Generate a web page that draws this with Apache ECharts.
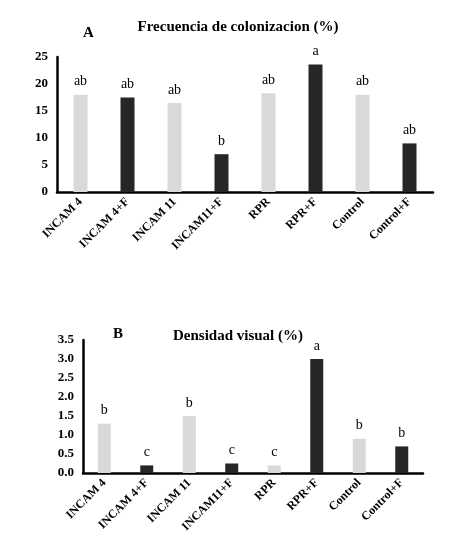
<!DOCTYPE html>
<html>
<head>
<meta charset="utf-8">
<script src="https://cdn.jsdelivr.net/npm/echarts@6/dist/echarts.min.js"></script>
<style>html,body{margin:0;padding:0;background:#fff;}#c{width:450px;height:553px;}</style>
</head>
<body>
<div id="c"></div>
<script>
var categories = ["INCAM 4", "INCAM 4+F", "INCAM 11", "INCAM11+F", "RPR", "RPR+F", "Control", "Control+F"];
var valuesA = [18, 17.5, 16.5, 7, 18.3, 23.6, 18, 9];
var lettersA = ["ab", "ab", "ab", "b", "ab", "a", "ab", "ab"];
var valuesB = [1.3, 0.2, 1.5, 0.25, 0.2, 3.0, 0.9, 0.7];
var lettersB = ["b", "c", "b", "c", "c", "a", "b", "b"];
var titleA = "Frecuencia de colonizacion (%)";
var titleB = "Densidad visual (%)";

var LIGHT = "#d9d9d9", DARK = "#262626";
var serif = "Liberation Serif";

function makeData(vals, letters) {
  return vals.map(function (v, i) {
    return {
      value: v,
      itemStyle: { color: i % 2 === 0 ? LIGHT : DARK },
      label: { formatter: letters[i] }
    };
  });
}

function xAxis(gi) {
  return {
    type: "category", gridIndex: gi, data: categories,
    axisLine: { lineStyle: { color: "#000", width: 2.5 } },
    axisTick: { show: false },
    axisLabel: { rotate: 45, interval: 0, color: "#000", fontFamily: serif, fontWeight: "bold", fontSize: 12, margin: 8 }
  };
}
function yAxis(gi, max, interval, dec) {
  return {
    type: "value", gridIndex: gi, min: 0, max: max, interval: interval,
    splitLine: { show: false },
    axisLine: { show: true, lineStyle: { color: "#000", width: 2.5 } },
    axisTick: { show: false },
    axisLabel: { color: "#000", fontFamily: serif, fontWeight: "bold", fontSize: 13, margin: 9,
      formatter: function (v) { return v.toFixed(dec); } }
  };
}
function series(idx, vals, letters, w) {
  return {
    type: "bar", xAxisIndex: idx, yAxisIndex: idx, barWidth: w,
    data: makeData(vals, letters),
    label: { show: true, position: "top", distance: 6, color: "#000", fontFamily: serif, fontSize: 14 }
  };
}

var chart = echarts.init(document.getElementById("c"));
chart.setOption({
  animation: false,
  title: [
    { text: titleA, left: 233, top: 15, textAlign: "center", textStyle: { fontFamily: serif, fontWeight: "bold", fontSize: 15, color: "#000" } },
    { text: "A", left: 78, top: 21, textStyle: { fontFamily: serif, fontWeight: "bold", fontSize: 15, color: "#000" } },
    { text: titleB, left: 233, top: 324, textAlign: "center", textStyle: { fontFamily: serif, fontWeight: "bold", fontSize: 15, color: "#000" } },
    { text: "B", left: 108, top: 322, textStyle: { fontFamily: serif, fontWeight: "bold", fontSize: 15, color: "#000" } }
  ],
  grid: [
    { left: 57, right: 17, top: 57, bottom: 361 },
    { left: 83, right: 27, top: 340, bottom: 80 }
  ],
  xAxis: [xAxis(0), xAxis(1)],
  yAxis: [yAxis(0, 25, 5, 0), yAxis(1, 3.5, 0.5, 1)],
  series: [series(0, valuesA, lettersA, 14), series(1, valuesB, lettersB, 13)]
});
</script>
</body>
</html>
